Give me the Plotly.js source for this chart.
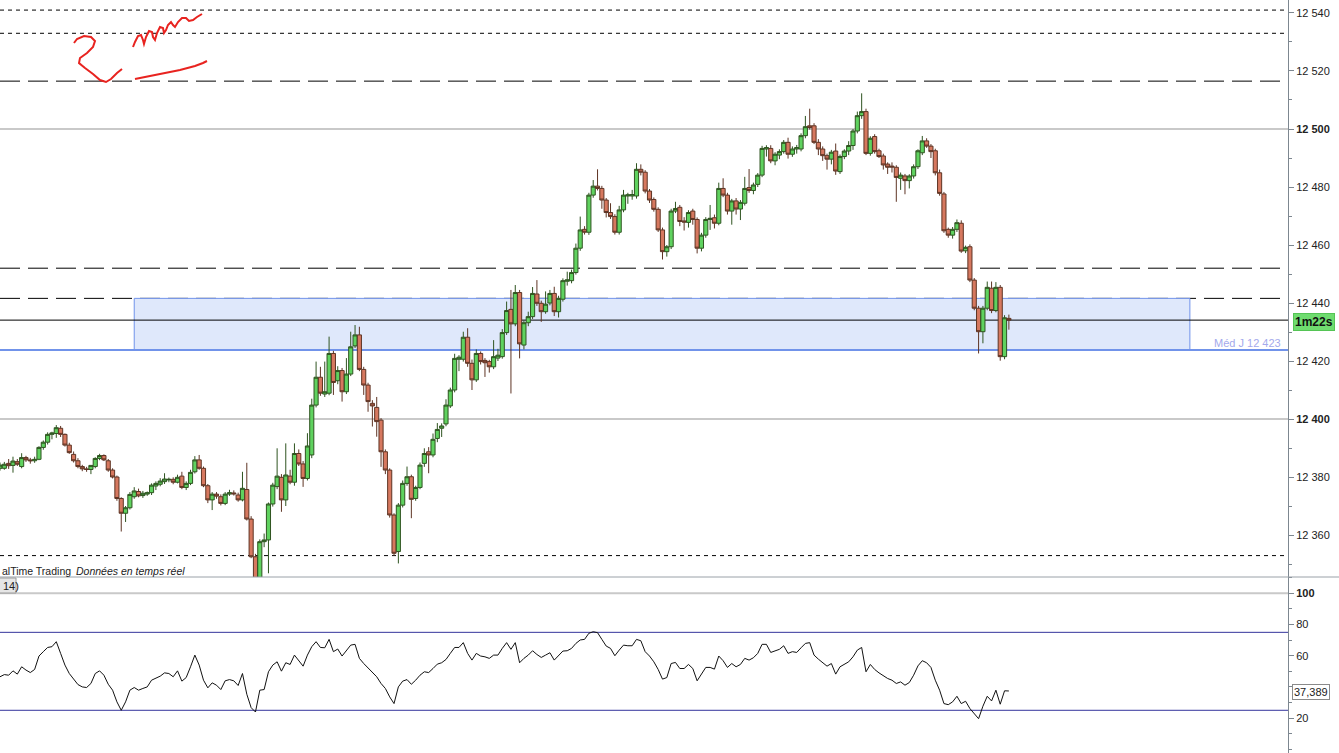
<!DOCTYPE html>
<html><head><meta charset="utf-8">
<script src="https://cdn.plot.ly/plotly-3.0.1.min.js"></script>
<style>html,body{margin:0;padding:0;background:#fff;overflow:hidden}#chart{width:1339px;height:753px}</style>
</head><body><div id="chart"></div>
<script>
const openP = [12383.0,12383.0,12384.7,12384.0,12385.3,12383.6,12386.7,12385.9,12385.6,12386.1,
12390.2,12392.0,12394.7,12395.0,12396.8,12394.7,12391.0,12387.8,12385.6,12383.6,
12382.8,12382.6,12383.6,12386.4,12387.4,12385.6,12382.4,12380.0,12372.6,12367.5,
12369.4,12373.2,12375.0,12373.6,12374.1,12374.6,12376.9,12377.5,12378.4,12379.0,
12379.2,12378.2,12380.3,12376.4,12377.8,12381.8,12385.9,12383.0,12377.0,12372.1,
12374.1,12373.2,12370.9,12374.1,12374.5,12373.8,12372.1,12375.7,12365.5,12352.5,
12343.5,12357.7,12358.3,12370.7,12376.7,12379.9,12372.1,12380.3,12378.2,12388.1,
12384.5,12379.5,12387.6,12404.8,12414.4,12408.6,12408.9,12422.6,12413.2,12416.7,
12409.4,12415.5,12425.2,12429.0,12417.1,12411.7,12405.4,12404.0,12399.6,12388.7,
12382.4,12366.9,12354.3,12370.3,12377.8,12380.1,12372.6,12376.4,12384.7,12388.7,
12387.6,12393.3,12396.8,12398.3,12404.5,12410.0,12420.6,12420.6,12428.2,12419.2,
12413.5,12422.6,12420.2,12419.8,12418.0,12421.0,12421.5,12429.8,12437.8,12432.8,
12443.6,12425.5,12433.2,12435.3,12443.1,12439.9,12437.0,12440.0,12443.3,12437.0,
12441.3,12447.5,12447.7,12450.5,12458.9,12465.4,12464.4,12477.2,12480.3,12479.5,
12475.5,12471.2,12469.8,12464.4,12472.1,12476.9,12476.9,12476.9,12486.1,12485.1,
12478.6,12475.7,12472.3,12465.2,12457.7,12459.4,12471.7,12473.0,12468.3,12467.8,
12471.7,12468.8,12458.9,12463.4,12468.8,12469.4,12467.5,12479.5,12477.2,12471.7,
12475.2,12472.4,12474.4,12479.8,12478.8,12480.9,12484.1,12493.1,12493.3,12489.0,
12491.0,12492.2,12495.4,12491.3,12493.1,12493.1,12497.7,12501.1,12501.1,12495.4,
12493.1,12490.8,12489.6,12492.4,12485.3,12490.5,12492.4,12494.3,12499.3,12504.6,
12506.0,12491.6,12497.4,12492.5,12490.7,12487.9,12487.2,12486.8,12483.0,12483.8,
12482.2,12483.8,12487.0,12491.8,12495.9,12494.1,12492.5,12484.9,12477.6,12465.4,
12463.4,12465.4,12467.5,12458.0,12459.4,12447.9,12438.2,12430.1,12438.2,12445.1,
12437.4,12445.4,12421.5,12434.7];
const highP = [12385.0,12385.2,12386.2,12387.0,12386.2,12388.2,12387.3,12386.6,12387.0,12390.6,
12392.6,12395.4,12395.6,12397.9,12397.6,12395.0,12391.8,12388.8,12386.5,12384.2,
12383.5,12384.0,12386.8,12388.0,12387.8,12386.2,12383.0,12380.5,12373.0,12370.0,
12374.8,12376.5,12376.0,12375.2,12375.0,12377.8,12378.5,12379.6,12381.3,12379.8,
12379.9,12380.8,12381.8,12378.5,12382.5,12387.2,12387.6,12383.6,12377.6,12374.8,
12374.8,12374.0,12374.8,12375.6,12375.4,12374.6,12381.8,12384.9,12366.5,12353.5,
12358.5,12360.5,12371.2,12378.0,12389.9,12381.0,12391.6,12382.5,12391.6,12389.5,
12385.5,12395.1,12407.0,12419.8,12418.0,12419.8,12428.4,12423.5,12418.2,12417.6,
12421.0,12430.1,12432.4,12431.8,12418.0,12412.5,12406.5,12407.6,12400.3,12389.5,
12383.0,12367.5,12371.0,12378.8,12383.6,12380.8,12377.0,12385.0,12389.9,12390.3,
12395.0,12398.6,12398.5,12406.8,12410.8,12422.5,12422.0,12430.1,12431.3,12420.5,
12424.0,12423.3,12421.0,12420.4,12427.2,12424.2,12431.0,12440.5,12444.5,12446.2,
12444.5,12434.0,12437.0,12445.5,12447.9,12440.8,12444.0,12444.5,12445.6,12442.5,
12448.5,12450.8,12451.5,12460.5,12469.8,12466.5,12478.0,12482.4,12486.1,12480.4,
12476.2,12474.4,12470.6,12473.5,12479.0,12478.0,12479.0,12488.2,12487.8,12485.8,
12479.3,12476.4,12473.0,12466.0,12460.0,12472.5,12474.9,12473.8,12469.6,12472.0,
12472.5,12469.5,12464.2,12469.6,12473.8,12470.5,12481.5,12483.0,12478.0,12475.9,
12476.2,12475.5,12483.5,12486.2,12481.5,12484.8,12494.2,12494.4,12494.4,12492.0,
12493.0,12496.2,12497.0,12494.0,12494.5,12498.5,12504.5,12507.0,12502.0,12496.5,
12494.0,12491.5,12492.8,12495.0,12491.2,12493.0,12495.8,12500.0,12506.0,12512.3,
12507.0,12497.5,12498.2,12493.2,12491.5,12488.5,12488.5,12487.5,12485.0,12484.5,
12484.4,12487.8,12493.0,12497.6,12496.8,12494.8,12493.2,12486.0,12478.3,12466.0,
12466.2,12468.8,12468.5,12459.8,12460.2,12448.6,12439.0,12439.0,12447.4,12447.4,
12447.2,12446.2,12435.8,12436.0];
const lowP = [12382.2,12382.5,12382.8,12381.5,12383.8,12383.0,12385.2,12384.6,12384.9,12385.8,
12389.4,12391.2,12393.0,12393.5,12393.8,12390.5,12388.0,12385.0,12383.0,12382.0,
12381.8,12381.0,12383.0,12385.8,12385.5,12381.8,12379.5,12371.8,12361.2,12364.5,
12368.8,12372.5,12373.0,12372.8,12373.5,12373.8,12375.5,12376.8,12377.6,12378.2,
12377.5,12377.8,12375.8,12375.5,12377.2,12381.2,12382.5,12376.5,12371.0,12368.6,
12372.5,12370.2,12370.3,12373.5,12373.6,12371.5,12371.6,12365.0,12352.0,12338.0,
12341.0,12355.8,12346.8,12369.8,12375.8,12368.0,12370.0,12377.5,12377.0,12383.8,
12376.6,12378.8,12386.5,12404.0,12408.0,12407.6,12408.2,12408.3,12412.0,12406.0,
12408.6,12414.8,12424.5,12416.5,12408.3,12402.5,12397.4,12393.9,12383.5,12381.0,
12366.0,12352.8,12350.2,12369.5,12377.0,12365.8,12371.8,12375.8,12383.5,12381.3,
12386.8,12392.0,12393.8,12397.5,12403.8,12409.2,12416.5,12419.8,12418.0,12410.0,
12412.8,12418.8,12414.5,12416.0,12417.2,12420.0,12420.8,12429.0,12408.8,12432.0,
12420.9,12424.0,12432.0,12434.5,12439.0,12433.5,12436.3,12439.2,12435.5,12435.0,
12440.5,12446.0,12446.8,12449.8,12458.0,12463.6,12463.5,12476.3,12478.8,12472.5,
12469.5,12469.0,12463.6,12463.6,12471.3,12474.2,12475.6,12476.0,12484.0,12477.8,
12474.5,12471.5,12464.5,12455.0,12456.0,12458.6,12471.0,12466.5,12465.0,12466.0,
12467.0,12457.1,12457.8,12462.5,12465.2,12465.7,12466.8,12476.5,12470.5,12467.0,
12470.5,12468.6,12473.6,12478.0,12477.5,12480.0,12483.4,12490.5,12488.2,12487.5,
12489.6,12491.5,12489.8,12490.4,12491.5,12492.3,12496.8,12499.8,12494.8,12491.0,
12489.0,12486.0,12487.8,12484.2,12484.5,12489.6,12491.0,12492.8,12498.5,12503.5,
12491.0,12490.8,12491.5,12490.0,12486.0,12484.5,12485.0,12474.9,12479.0,12477.5,
12479.5,12482.9,12486.2,12491.0,12493.5,12490.0,12484.0,12477.0,12464.2,12462.5,
12462.2,12464.5,12457.3,12457.2,12447.2,12437.5,12422.6,12426.1,12437.5,12436.5,
12436.8,12420.1,12420.6,12430.8];
const closeP = [12384.1,12384.4,12383.9,12385.5,12384.4,12386.7,12385.9,12385.6,12386.1,12390.2,
12392.0,12394.7,12395.2,12397.0,12394.7,12391.0,12388.4,12385.6,12383.6,12382.8,
12382.6,12384.0,12386.4,12387.4,12385.9,12382.4,12380.0,12372.6,12367.5,12369.4,
12374.0,12375.2,12373.5,12374.4,12374.6,12377.2,12377.8,12378.6,12379.3,12379.2,
12378.2,12379.9,12376.4,12377.8,12381.6,12385.9,12383.0,12377.0,12372.1,12374.1,
12373.4,12370.9,12374.1,12374.6,12374.2,12372.1,12376.1,12365.5,12352.5,12343.5,
12357.7,12358.3,12370.7,12377.2,12380.3,12372.1,12380.7,12378.2,12388.1,12384.5,
12379.5,12390.7,12404.8,12414.4,12408.9,12409.4,12422.6,12412.6,12416.7,12409.4,
12415.5,12424.9,12429.0,12417.1,12411.7,12406.0,12404.5,12399.1,12388.7,12382.4,
12366.9,12353.7,12370.3,12377.8,12380.1,12372.3,12376.4,12384.1,12388.1,12387.6,
12393.0,12396.4,12397.6,12404.8,12410.0,12420.9,12421.3,12428.2,12419.2,12413.5,
12422.6,12419.8,12419.4,12418.0,12421.5,12422.0,12429.8,12437.4,12432.8,12443.6,
12425.9,12433.2,12435.3,12443.3,12439.9,12437.0,12439.6,12443.3,12437.0,12441.6,
12447.7,12448.0,12450.5,12458.9,12465.2,12464.4,12477.2,12480.3,12479.5,12475.5,
12471.2,12469.8,12464.4,12472.1,12477.2,12477.3,12477.4,12486.1,12485.1,12478.6,
12475.5,12472.3,12465.2,12457.7,12459.4,12471.7,12472.6,12468.1,12467.9,12471.2,
12468.8,12458.9,12463.4,12468.8,12469.2,12467.5,12479.5,12477.2,12471.7,12475.2,
12472.4,12474.7,12479.5,12478.8,12480.7,12484.1,12493.3,12493.6,12489.0,12491.3,
12492.2,12495.4,12491.3,12493.1,12493.6,12497.7,12500.8,12500.5,12495.4,12493.1,
12490.8,12489.6,12492.0,12485.5,12490.5,12492.4,12494.3,12499.3,12504.6,12506.0,
12491.6,12496.8,12492.2,12490.5,12487.6,12486.8,12486.9,12483.3,12484.1,12482.2,
12483.8,12487.0,12492.5,12495.9,12494.1,12492.2,12484.9,12477.8,12464.9,12463.4,
12465.4,12467.7,12457.9,12459.2,12447.9,12438.2,12430.1,12438.2,12445.4,12437.4,
12445.4,12421.5,12434.9,12434.1];
const rsi = [46.5,47.9,47.5,50.3,48.2,52.9,50.8,49.2,51.2,59.8,
62.6,65.3,65.8,69.0,61.5,54.0,48.6,44.7,41.5,40.0,
39.6,42.2,48.6,50.3,47.5,41.7,37.9,30.4,25.0,30.4,
37.9,39.6,37.9,39.0,40.0,44.3,45.8,46.9,49.0,48.6,
46.5,50.3,43.7,46.0,52.9,60.4,54.0,44.3,39.4,42.6,
41.1,38.3,43.9,44.7,43.9,40.9,48.6,35.3,26.7,23.9,
37.9,38.3,49.7,54.0,56.1,50.1,55.5,54.4,60.4,57.2,
53.3,60.4,65.8,69.0,65.3,65.1,70.5,62.6,64.3,59.8,
63.0,66.8,67.3,58.3,55.0,52.2,49.7,46.5,42.2,39.0,
33.6,29.3,40.0,43.7,44.7,41.7,44.3,47.5,49.7,49.2,
51.8,54.6,55.5,57.6,61.5,65.3,65.3,68.4,61.5,57.2,
61.5,59.8,59.3,58.3,60.4,60.4,64.7,68.4,64.1,68.4,
55.5,58.3,60.4,63.2,60.8,58.9,60.4,61.9,57.2,60.4,
63.0,63.2,64.7,67.9,70.1,70.5,74.4,75.4,74.8,70.5,
66.2,64.7,60.0,63.6,66.8,66.4,66.4,70.5,69.6,62.6,
59.8,56.1,51.2,45.0,46.0,55.0,55.7,51.8,51.8,54.4,
51.8,43.9,48.2,52.5,52.5,51.4,59.8,56.8,52.5,55.0,
52.9,54.4,58.3,57.2,58.7,61.5,67.3,67.3,62.1,63.2,
64.1,66.4,61.5,62.6,62.1,65.1,67.9,68.4,60.4,57.8,
55.5,53.3,55.0,48.2,52.9,54.4,56.1,59.3,63.6,65.3,
49.7,54.4,51.2,49.0,47.1,45.4,44.3,42.2,43.2,41.1,
42.8,47.5,53.5,56.8,55.5,52.5,44.3,37.9,29.3,28.6,
30.4,34.0,29.3,30.8,26.1,22.8,19.6,27.6,34.0,31.0,
37.9,28.9,37.5,37.389];
const priceTicks = [12360,12380,12400,12420,12440,12460,12480,12500,12520,12540];
const priceTickText = ['12 360','12 380','<b>12 400</b>','12 420','12 440','12 460','12 480','<b>12 500</b>','12 520','12 540'];
const rsiTicks = [20,40,60,80,100];
const rsiTickText = ['20','','60','80','<b>100</b>'];
const levelsShortDash = [12541.0,12533.0,12352.9];
const levelsLongDash = [12516.5,12452.0,12441.6];
const levelsGrey = [12500,12400];
const zoneTop = 12441.6, zoneBottom = 12423.8, zoneStart = 31, zoneEnd = 274.8;
const lastPrice = 12434.1, medianLevel = 12423.8;
const rsiBands = [75,25];

const xs = openP.map((_, i) => i);
const PW = 1288, PH = 753;
const xr = [0, PW / 4.33];
const fx = p => p / PW, fy = p => 1 - p / PH;
const split = 1 - 577 / PH;

function pen(points) {
  return 'M' + points.map(p => fx(p[0]).toFixed(5) + ',' + fy(p[1]).toFixed(5)).join(' L');
}
function hline(v, xref, yref, line) {
  return {type:'line',xref:xref,yref:yref,x0:xr[0],x1:xr[1],y0:v,y1:v,layer:'below',line:line};
}

const shapes = [];
levelsShortDash.forEach(v => shapes.push(hline(v,'x','y',{color:'#000',width:1,dash:'4px,4px'})));
levelsLongDash.forEach(v => shapes.push(hline(v,'x','y',{color:'#000',width:1,dash:'20px,8px'})));
levelsGrey.forEach(v => shapes.push(hline(v,'x','y',{color:'#c9c9c9',width:2})));
shapes.push({type:'rect',xref:'x',yref:'y',x0:zoneStart,x1:zoneEnd,y0:zoneBottom,y1:zoneTop,layer:'below',fillcolor:'#dfe8fb',line:{color:'#7193ea',width:1}});
shapes.push(hline(lastPrice,'x','y',{color:'#000',width:1}));
shapes.push(hline(medianLevel,'x','y',{color:'#7193ea',width:2}));
shapes.push(hline(100,'x2','y2',{color:'#c9c9c9',width:2}));
rsiBands.forEach(v => shapes.push(hline(v,'x2','y2',{color:'#34349c',width:1})));
shapes.push({type:'line',xref:'paper',yref:'paper',x0:0,x1:1339/PW,y0:split,y1:split,line:{color:'#9aa1a8',width:1}});
shapes.push({type:'rect',xref:'paper',yref:'paper',x0:-0.01,x1:fx(16),y0:fy(593),y1:fy(578),fillcolor:'#e6e6e6',line:{color:'#9a9a9a',width:1}});
// handwritten red strokes
const ink = {color:'#e8231f',width:2};
shapes.push({type:'path',xref:'paper',yref:'paper',path:pen([[74,43],[77,39],[84,36],[91,37],[95,41],[93,47],[87,53],[80,58],[79,63],[85,68],[93,74],[100,80],[106,82],[111,79],[117,73],[122,69]]),line:ink});
shapes.push({type:'path',xref:'paper',yref:'paper',path:pen([[133,47],[135,42],[138,36],[141,35],[143,40],[144,44],[146,37],[149,31],[152,32],[153,37],[155,40],[157,33],[160,27],[163,28],[164,33],[166,30],[168,25],[171,22],[173,25],[175,27],[178,22],[182,18],[186,18],[189,21],[193,20],[197,17],[202,14]]),line:ink});
shapes.push({type:'path',xref:'paper',yref:'paper',path:pen([[135,79],[150,76],[165,73],[180,70],[195,66],[203,63],[207,61]]),line:ink});

const baseFont = {family:'"Liberation Sans", Arial, sans-serif', size:11, color:'#222'};
const annotations = [
  {xref:'paper',yref:'paper',x:0,y:fy(571),xanchor:'left',yanchor:'middle',text:'alTime Trading',showarrow:false,font:{family:baseFont.family,size:10.5,color:'#222'}},
  {xref:'paper',yref:'paper',x:fx(74),y:fy(571),xanchor:'left',yanchor:'middle',text:'<i>Données en temps réel</i>',showarrow:false,font:{family:baseFont.family,size:10.5,color:'#222'}},
  {xref:'paper',yref:'paper',x:fx(1),y:fy(586),xanchor:'left',yanchor:'middle',text:'14)',showarrow:false,font:baseFont},
  {xref:'paper',yref:'paper',x:fx(1283),y:fy(343),xanchor:'right',yanchor:'middle',text:'Méd J 12 423',showarrow:false,font:{family:baseFont.family,size:11,color:'#a4a9ec'}},
  {xref:'paper',yref:'paper',x:fx(1314),y:fy(321.5),xanchor:'center',yanchor:'middle',text:'<b>1m22s</b>',showarrow:false,bgcolor:'#6fdc6f',bordercolor:'#55c455',borderwidth:1,borderpad:1,font:{family:baseFont.family,size:12,color:'#111'}},
  {xref:'paper',yref:'paper',x:fx(1310.5),y:fy(691.7),xanchor:'center',yanchor:'middle',text:'37,389',showarrow:false,bgcolor:'#fff',bordercolor:'#8a8a8a',borderwidth:1,borderpad:1,font:baseFont}
];

const traces = [
  {type:'candlestick',x:xs,open:openP,high:highP,low:lowP,close:closeP,xaxis:'x',yaxis:'y',
   increasing:{line:{color:'#2f5420',width:1},fillcolor:'#5fd25f'},
   decreasing:{line:{color:'#5e3424',width:1},fillcolor:'#d6785f'},
   whiskerwidth:0,hoverinfo:'skip',showlegend:false},
  {type:'scatter',mode:'lines',x:xs,y:rsi,xaxis:'x2',yaxis:'y2',line:{color:'#111',width:1},hoverinfo:'skip',showlegend:false}
];

const layout = {
  width:1339,height:753,margin:{l:0,r:51,t:0,b:0},
  paper_bgcolor:'#fff',plot_bgcolor:'#fff',showlegend:false,boxgap:0.05,boxgroupgap:0,
  font:baseFont,
  xaxis:{domain:[0,1],range:xr,visible:false,rangeslider:{visible:false},anchor:'y'},
  xaxis2:{domain:[0,1],range:xr,visible:false,anchor:'y2'},
  yaxis:{domain:[split,1],range:[12345.52,12544.48],side:'right',anchor:'x',showgrid:false,zeroline:false,
    showline:true,linecolor:'#7d8790',linewidth:1,ticks:'outside',ticklen:5,tickcolor:'#7d8790',
    tickmode:'array',tickvals:priceTicks,ticktext:priceTickText,tickfont:baseFont,
    minor:{dtick:10,tick0:12350,ticks:'outside',ticklen:3,tickcolor:'#7d8790',showgrid:false}},
  yaxis2:{domain:[0,split],range:[-2.4,110.5],side:'right',anchor:'x2',showgrid:false,zeroline:false,
    showline:true,linecolor:'#7d8790',linewidth:1,ticks:'outside',ticklen:5,tickcolor:'#7d8790',
    tickmode:'array',tickvals:rsiTicks,ticktext:rsiTickText,tickfont:baseFont,
    minor:{dtick:10,tick0:0,ticks:'outside',ticklen:3,tickcolor:'#7d8790',showgrid:false}},
  shapes:shapes,annotations:annotations
};
Plotly.newPlot('chart',traces,layout,{staticPlot:true,displayModeBar:false});
</script></body></html>
